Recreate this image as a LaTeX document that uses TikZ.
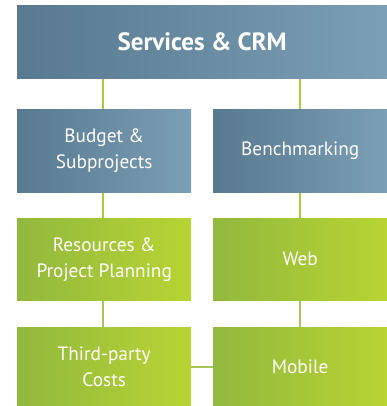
\documentclass[tikz,border=0pt]{standalone}
\usepackage{fontspec}
\setmainfont{PT Sans}
\definecolor{blueL}{HTML}{587990}
\definecolor{blueR}{HTML}{7B9FB5}
\definecolor{greenL}{HTML}{92B83E}
\definecolor{greenR}{HTML}{B8D433}
\definecolor{linkTop}{HTML}{A8CC3C}
\definecolor{linkLow}{HTML}{A7C45A}
\tikzset{
  box/.style={anchor=north west, inner sep=0pt, align=center,
    text=white, font=\fontsize{19.3}{26}\selectfont},
  bluebox/.style={box, left color=blueL, right color=blueR},
  greenbox/.style={box, left color=greenL, right color=greenR},
  link/.style={line width=2pt},
}
\begin{document}
\begin{tikzpicture}[x=1pt,y=-1pt]
  \useasboundingbox (0,0) rectangle (387,406);

  % connectors first, boxes on top
  \coordinate (lc) at (103,0);
  \coordinate (rc) at (300,0);
  \draw[link, linkTop] (lc |- 0,78) -- (lc |- 0,109);
  \draw[link, linkTop] (rc |- 0,78) -- (rc |- 0,109);
  \draw[link, linkTop] (lc |- 0,192) -- (lc |- 0,218);
  \draw[link, linkTop] (rc |- 0,192) -- (rc |- 0,218);
  \draw[link, linkLow] (lc |- 0,300) -- (lc |- 0,327);
  \draw[link, linkLow] (rc |- 0,300) -- (rc |- 0,327);

  \node[bluebox, minimum width=370pt, minimum height=73pt,
        font=\fontsize{25}{30}\selectfont\bfseries]
    (crm) at (17,5) {Services \& CRM};

  \node[bluebox, minimum width=174pt, minimum height=83pt]
    (budget) at (17,109) {Budget \&\\Subprojects};
  \node[bluebox, minimum width=174pt, minimum height=83pt]
    (bench) at (213,109) {Benchmarking};

  \node[greenbox, minimum width=174pt, minimum height=82pt]
    (res) at (17,218) {Resources \&\\Project Planning};
  \node[greenbox, minimum width=174pt, minimum height=82pt]
    (web) at (213,218) {Web};

  \node[greenbox, minimum width=174pt, minimum height=79pt]
    (third) at (17,327) {Third-party\\Costs};
  \node[greenbox, minimum width=174pt, minimum height=79pt]
    (mobile) at (213,327) {Mobile};

  \draw[link, linkLow] (third.east |- mobile.west) -- (mobile.west);
\end{tikzpicture}
\end{document}
